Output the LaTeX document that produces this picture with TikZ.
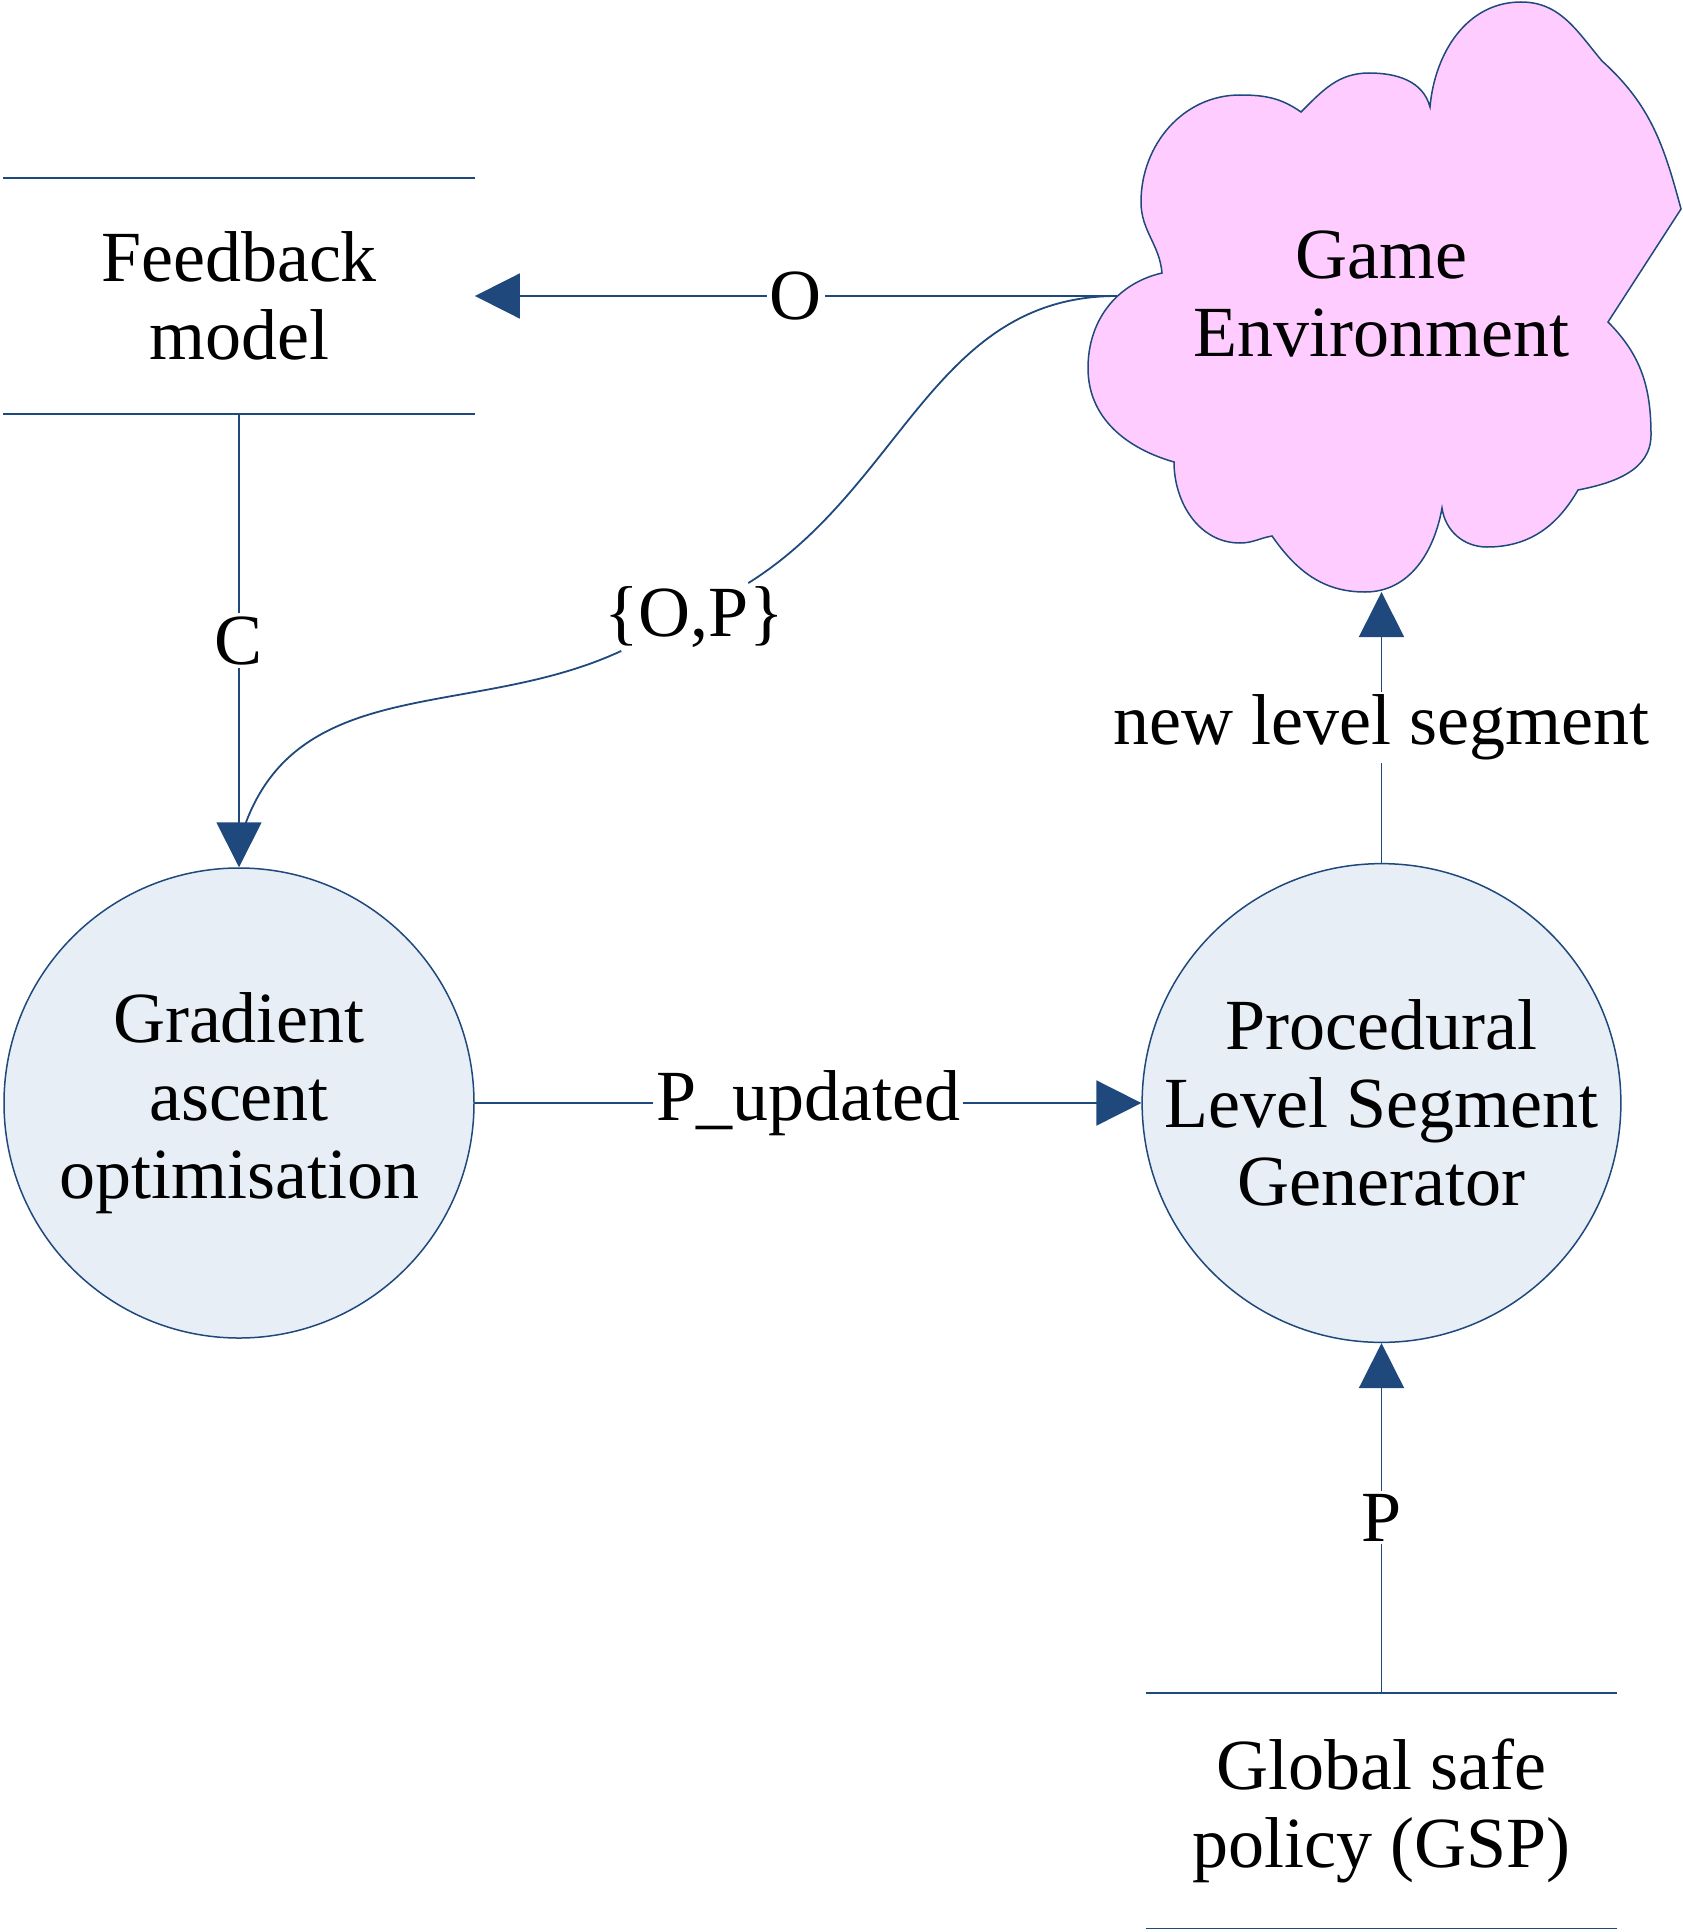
\documentclass[tikz,border=0pt]{standalone}
\usepackage{fontspec}
\setmainfont{Liberation Serif}
\usetikzlibrary{arrows.meta}
\definecolor{flowblue}{RGB}{31,73,125}
\definecolor{procfill}{RGB}{232,238,245}
\definecolor{cloudpink}{RGB}{255,204,255}
\tikzset{
  every node/.style={font=\fontsize{36}{39}\selectfont},
  process/.style={circle, draw=flowblue, line width=0.75pt, fill=procfill, minimum size=235pt, inner sep=0pt, align=center},
  datastore/.style={minimum width=235.5pt, minimum height=117.5pt, inner sep=0pt, align=center},
  flow/.style={draw=flowblue, line width=0.9pt},
  flowarrow/.style={flow, -{Triangle[length=22.5pt,width=22.5pt]}},
  flowlabel/.style={fill=white, inner sep=1.5pt},
}

\begin{document}
\begin{tikzpicture}[x=0.5pt,y=0.5pt]
\useasboundingbox (0,0) rectangle (1682,-1932);

%Cloud [Game Environment]
\draw [flow, line width=0.75pt, fill=cloudpink] (1162,-273)
  to[out=95,in=-90] (1141,-202) to[out=90,in=180] (1240,-95) to[out=0,in=145] (1301,-112)
  to[out=45,in=180] (1369,-73) to[out=0,in=105] (1430,-107)
  to[out=85,in=180] (1521,-2) to[out=0,in=130] (1602,-61)
  to[out=-42,in=105] (1681,-209) -- (1608,-322)
  to[out=-45,in=90] (1651,-435) to[out=-90,in=11] (1578,-490)
  to[out=-120,in=0] (1487,-547) to[out=180,in=-82] (1442,-508)
  to[out=-100,in=0] (1365,-592) to[out=180,in=-55] (1272,-536)
  to[out=190,in=0] (1240,-543) to[out=180,in=-90] (1174,-462)
  to[out=164,in=-90] (1088,-368) to[out=90,in=193] (1162,-273) -- cycle;
\coordinate (envport) at (1117,-296);
\coordinate (envbot) at (1381.5,-592);

% Text Node
\node (env) at (1381,-294) [align=center] {Game\\Environment};

% Stores
\node [datastore] (fb) at (239,-296) {Feedback\\model};
\draw [flow] (fb.north west) -- (fb.north east) (fb.south west) -- (fb.south east);
\node [datastore] (gsp) at (1381.5,-1810.5) {Global safe\\policy (GSP)};
\draw [flow] (gsp.north west) -- (gsp.north east) (gsp.south west) -- (gsp.south east);

% Processes
\node [process] (grad) at (239,-1103) {Gradient\\ascent\\optimisation};
\node [process] (plsg) at (1381.5,-1103) {Procedural\\Level Segment\\Generator};
\coordinate (gradtop) at (245,-825);

% Flows
\draw [flowarrow] (envport) -- node[flowlabel] {O} (fb.east);
\draw [flowarrow] (fb) -- node[flowlabel] {C} (grad);
\draw [flowarrow] (grad) -- node[flowlabel] {P\_updated} (plsg);
\draw [flowarrow] (plsg) -- node[flowlabel] {new level segment} (envbot);
\draw [flowarrow] (gsp) -- node[flowlabel] {P} (plsg);
\node [flowlabel] (op) at (694,-617) {\{O,P\}};
\draw [flow] (envport) to[out=180,in=32] (op) to[out=205,in=70] (gradtop);

\end{tikzpicture}
\end{document}
